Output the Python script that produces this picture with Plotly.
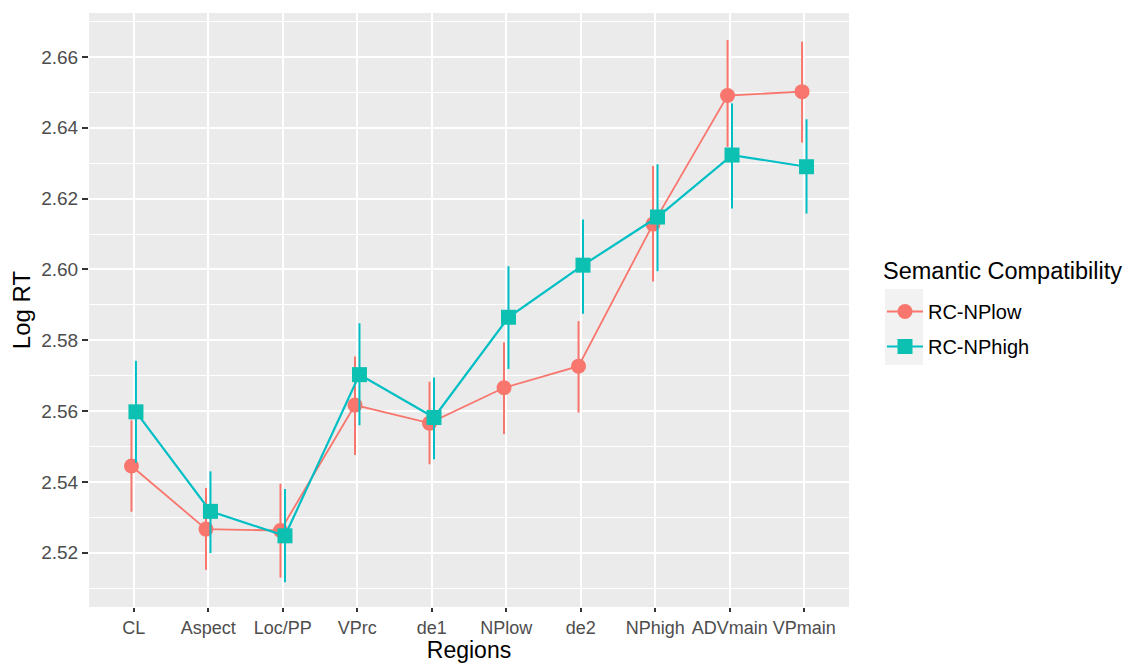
import plotly.graph_objects as go

regions = ["CL", "Aspect", "Loc/PP", "VPrc", "de1", "NPlow", "de2", "NPhigh", "ADVmain", "VPmain"]

low_mean = [2.5445, 2.5267, 2.5263, 2.5617, 2.5566, 2.5666, 2.5727, 2.6128, 2.6491, 2.6502]
low_upper = [2.5574, 2.5383, 2.5395, 2.5754, 2.5683, 2.5794, 2.5854, 2.6292, 2.6648, 2.6643]
low_lower = [2.5316, 2.5152, 2.5130, 2.5476, 2.5450, 2.5535, 2.5596, 2.5966, 2.6346, 2.6358]

high_mean = [2.5598, 2.5317, 2.5248, 2.5703, 2.5582, 2.5865, 2.6012, 2.6148, 2.6323, 2.6290]
high_upper = [2.5742, 2.5430, 2.5380, 2.5848, 2.5695, 2.6009, 2.6141, 2.6297, 2.6469, 2.6424]
high_lower = [2.5454, 2.5199, 2.5117, 2.5560, 2.5464, 2.5719, 2.5875, 2.5995, 2.6172, 2.6158]

y_major = [2.52, 2.54, 2.56, 2.58, 2.60, 2.62, 2.64, 2.66]
y_major_text = ["2.52", "2.54", "2.56", "2.58", "2.60", "2.62", "2.64", "2.66"]

legend_title = "Semantic Compatibility"

RED = "#F8766D"
TEAL = "#00BFC4"
TEAL_MK = "#0CC0B2"
DODGE = 0.03

xs = list(range(len(regions)))

fig = go.Figure()

def add_series(name, mean, upper, lower, offset, line_color, mk_color, symbol, lw, group):
    fig.add_trace(go.Scatter(
        x=[x + offset for x in xs], y=mean, name=name, mode="lines+markers",
        legendgroup=group,
        line=dict(color=line_color, width=lw),
        marker=dict(color=mk_color, size=15, symbol=symbol, line=dict(width=0)),
        error_y=dict(type="data", symmetric=False,
                     array=[u - m for u, m in zip(upper, mean)],
                     arrayminus=[m - l for m, l in zip(mean, lower)],
                     color=line_color, thickness=2, width=0),
    ))

add_series("RC-NPlow", low_mean, low_upper, low_lower, -DODGE, RED, RED, "circle", 1.8, "a")
add_series("RC-NPhigh", high_mean, high_upper, high_lower, DODGE, TEAL, TEAL_MK, "square", 2.2, "b")

font_family = "Liberation Sans, Arial, Helvetica, sans-serif"

# page body has an 8px margin: figure is drawn at (8, 8)
W, H = 1124, 655
L, T, R, B = 81, 5, 283, 56

fig.update_layout(
    width=W, height=H,
    margin=dict(l=L, r=R, t=T, b=B, autoexpand=False),
    paper_bgcolor="white", plot_bgcolor="#EBEBEB",
    font=dict(family=font_family, color="black"),
    showlegend=True,
    legend=dict(
        font=dict(size=20, color="black"),
        x=1.0434, xanchor="left", y=0.5303, yanchor="top",
        bgcolor="rgba(0,0,0,0)", tracegroupgap=6, traceorder="grouped",
        itemwidth=36,
    ),
    xaxis=dict(
        range=[-0.6, 9.6], tickmode="array", tickvals=xs, ticktext=regions,
        showgrid=True, gridcolor="white", gridwidth=1.6, zeroline=False,
        ticks="outside", ticklen=4, tickcolor="#333333", tickwidth=1.5,
        tickfont=dict(size=18, color="#4D4D4D"), tickangle=0,
        title=dict(text="Regions", font=dict(size=23, color="black"), standoff=9),
        showline=False, automargin=False,
    ),
    yaxis=dict(
        range=[2.5047, 2.6724], tickmode="array", tickvals=y_major, ticktext=y_major_text,
        showgrid=True, gridcolor="white", gridwidth=1.6, zeroline=False,
        ticks="outside", ticklen=6, tickcolor="#333333", tickwidth=1.5,
        tickfont=dict(size=19, color="#4D4D4D"),
        title=dict(text="Log RT", font=dict(size=24, color="black"), standoff=6),
        minor=dict(dtick=0.02, tick0=2.51, showgrid=True, gridcolor="white", gridwidth=0.8, ticks=""),
        showline=False, automargin=False,
    ),
    annotations=[dict(text=legend_title, xref="paper", yref="paper", x=1.042, y=0.5657,
                      xanchor="left", yanchor="middle", showarrow=False,
                      font=dict(size=23.5, color="black"))],
    shapes=[dict(type="rect", xref="paper", yref="paper", x0=1.0474, x1=1.0974, y0=0.4074, y1=0.5354,
                 fillcolor="#F2F2F2", line=dict(width=0), layer="below")],
)

fig.write_html("out.html")
